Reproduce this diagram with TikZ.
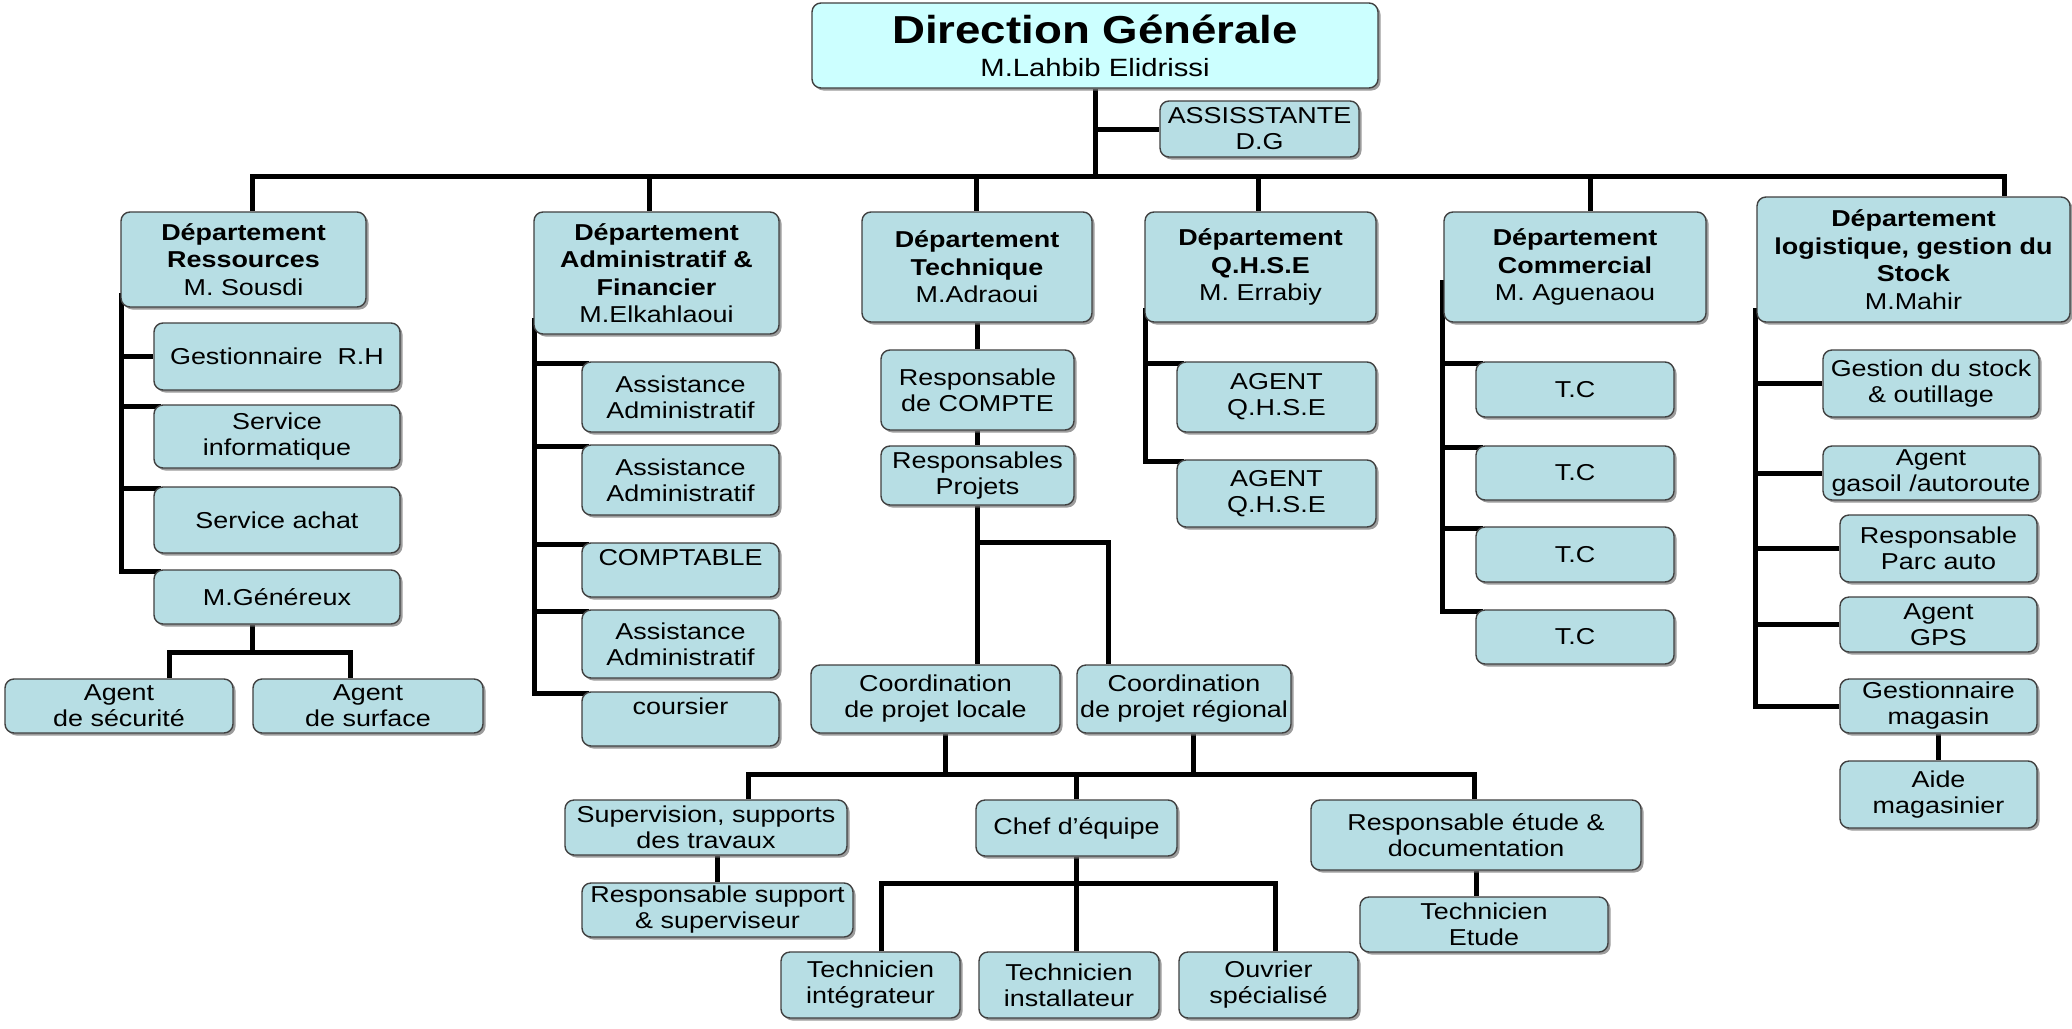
\documentclass[tikz,border=0pt]{standalone}
\usepackage{fontspec}
\setmainfont{Liberation Sans}[FakeStretch=1.17]
\usepackage{tikz}
\usetikzlibrary{positioning, shapes, shadows, backgrounds}
\definecolor{boxblue}{RGB}{183,222,228}
\definecolor{topcyan}{RGB}{204,255,255}

\begin{document}
\begin{tikzpicture}[
    x=1pt, y=-1pt,
    box/.style={rectangle, draw=black!75, line width=1.4pt, rounded corners=9pt, fill=boxblue, align=center, inner sep=0pt,
        font=\fontsize{23}{26}\selectfont, drop shadow={shadow xshift=2.5pt, shadow yshift=-2.5pt, fill=black!55, opacity=0.7}},
    dept/.style={box, font=\fontsize{23}{27.5}\selectfont},
    link/.style={line width=5pt}
]
    \useasboundingbox (0,0) rectangle (2072,1028);

    % Direction
    \node[box, fill=topcyan, minimum width=566pt, minimum height=85pt, font=\fontsize{25}{33}\selectfont] (dg) at (1095, 45.5) {\textbf{\fontsize{39}{39}\selectfont Direction Générale}\\M.Lahbib Elidrissi};
    \node[box, minimum width=199pt, minimum height=56pt] (dg_asst) at (1259.5, 129) {ASSISSTANTE\\D.G};

    % Departements
    \node[dept, minimum width=245pt, minimum height=95pt] (dep_rh) at (243.5, 259.5) {\textbf{Département}\\\textbf{Ressources}\\M. Sousdi};
    \node[dept, minimum width=245pt, minimum height=122pt] (dep_adm) at (656.5, 273) {\textbf{Département}\\\textbf{Administratif \&}\\\textbf{Financier}\\M.Elkahlaoui};
    \node[dept, minimum width=230pt, minimum height=110pt] (dep_tech) at (977, 267) {\textbf{Département}\\\textbf{Technique}\\M.Adraoui};
    \node[dept, minimum width=231pt, minimum height=110pt] (dep_qhse) at (1260.5, 267) {\textbf{Département}\\\textbf{Q.H.S.E}\\M. Errabiy};
    \node[dept, minimum width=262pt, minimum height=110pt] (dep_com) at (1575, 267) {\textbf{Département}\\\textbf{Commercial}\\M. Aguenaou};
    \node[dept, minimum width=313pt, minimum height=125pt] (dep_log) at (1913.5, 259.5) {\textbf{Département}\\\textbf{logistique, gestion du}\\\textbf{Stock}\\M.Mahir};

    % Ressources
    \node[box, minimum width=246pt, minimum height=67pt] (rh_grh) at (277, 356.5) {Gestionnaire~ R.H};
    \node[box, minimum width=246pt, minimum height=63pt] (rh_info) at (277, 436.5) {Service\\informatique};
    \node[box, minimum width=246pt, minimum height=66pt] (rh_achat) at (277, 520) {Service achat};
    \node[box, minimum width=246pt, minimum height=54pt] (rh_gen) at (277, 597) {M.Généreux};
    \node[box, minimum width=228pt, minimum height=54pt] (rh_secu) at (119, 706) {Agent\\de sécurité};
    \node[box, minimum width=230pt, minimum height=54pt] (rh_surf) at (368, 706) {Agent\\de surface};

    % Administratif
    \node[box, minimum width=197pt, minimum height=70pt] (adm_a1) at (680.5, 397) {Assistance\\Administratif};
    \node[box, minimum width=197pt, minimum height=70pt] (adm_a2) at (680.5, 480) {Assistance\\Administratif};
    \node[box, minimum width=197pt, minimum height=54pt] (adm_cpt) at (680.5, 570) {COMPTABLE\\~};
    \node[box, minimum width=197pt, minimum height=68pt] (adm_a3) at (680.5, 644) {Assistance\\Administratif};
    \node[box, minimum width=197pt, minimum height=54pt] (adm_cour) at (680.5, 719) {coursier\\~};

    % Technique
    \node[box, minimum width=193pt, minimum height=80pt] (tech_cpt) at (977.5, 390) {Responsable\\de COMPTE};
    \node[box, minimum width=193pt, minimum height=59pt] (tech_proj) at (977.5, 475.5) {Responsables\\Projets};
    \node[box, minimum width=249pt, minimum height=68pt] (coord_loc) at (935.5, 699) {Coordination\\de projet locale};
    \node[box, minimum width=214pt, minimum height=68pt] (coord_reg) at (1184, 699) {Coordination\\de projet régional};
    \node[box, minimum width=282pt, minimum height=55pt] (sup) at (706, 827.5) {Supervision, supports\\des travaux};
    \node[box, minimum width=271pt, minimum height=54pt] (rsup) at (717.5, 910) {Responsable support\\\& superviseur};
    \node[box, minimum width=201pt, minimum height=56pt] (chef) at (1076.5, 828) {Chef d'équipe};
    \node[box, minimum width=330pt, minimum height=70pt] (etude) at (1476, 835) {Responsable étude \&\\documentation};
    \node[box, minimum width=248pt, minimum height=55pt] (tetude) at (1484, 924.5) {Technicien\\Etude};
    \node[box, minimum width=179pt, minimum height=66pt] (tint) at (870.5, 985) {Technicien\\intégrateur};
    \node[box, minimum width=180pt, minimum height=66pt] (tinst) at (1069, 985) {Technicien\\installateur};
    \node[box, minimum width=179pt, minimum height=66pt] (ouvr) at (1268.5, 985) {Ouvrier\\spécialisé};

    % QHSE
    \node[box, minimum width=199pt, minimum height=70pt] (qhse_a1) at (1276.5, 397) {AGENT\\Q.H.S.E};
    \node[box, minimum width=199pt, minimum height=67pt] (qhse_a2) at (1276.5, 493.5) {AGENT\\Q.H.S.E};

    % Commercial
    \node[box, minimum width=198pt, minimum height=55pt] (com_tc1) at (1575, 389.5) {T.C};
    \node[box, minimum width=198pt, minimum height=54pt] (com_tc2) at (1575, 473) {T.C};
    \node[box, minimum width=198pt, minimum height=55pt] (com_tc3) at (1575, 554.5) {T.C};
    \node[box, minimum width=198pt, minimum height=54pt] (com_tc4) at (1575, 637) {T.C};

    % Logistique
    \node[box, minimum width=216pt, minimum height=67pt] (log_stock) at (1931, 383.5) {Gestion du stock\\\& outillage};
    \node[box, minimum width=216pt, minimum height=54pt] (log_gas) at (1931, 473) {Agent\\gasoil /autoroute};
    \node[box, minimum width=197pt, minimum height=67pt] (log_parc) at (1938.5, 548.5) {Responsable\\Parc auto};
    \node[box, minimum width=197pt, minimum height=55pt] (log_gps) at (1938.5, 624.5) {Agent\\GPS};
    \node[box, minimum width=197pt, minimum height=54pt] (log_mag) at (1938.5, 706) {Gestionnaire\\magasin};
    \node[box, minimum width=197pt, minimum height=67pt] (log_aide) at (1938.5, 794.5) {Aide\\magasinier};

    \begin{scope}[on background layer]
    \fill[white] (0,0) rectangle (2072,1028);
    % bus
    \coordinate (bus_l) at (252, 176);
    \coordinate (bus_r) at (2004, 176);
    \coordinate (drop_adm) at (649, 176);
    \coordinate (drop_tech) at (976, 176);
    \coordinate (drop_qhse) at (1258, 176);
    \coordinate (drop_com) at (1590, 176);
    \draw[link] (dg.south) -- (dg.south |- bus_l);
    \draw[link] (dg.south |- dg_asst.west) -- (dg_asst.west);
    \draw[link] (bus_l |- dep_rh.north) -- (bus_l) -- (bus_r) -- (bus_r |- dep_log.north);
    \draw[link] (drop_adm) -- (drop_adm |- dep_adm.north);
    \draw[link] (drop_tech) -- (drop_tech |- dep_tech.north);
    \draw[link] (drop_qhse) -- (drop_qhse |- dep_qhse.north);
    \draw[link] (drop_com) -- (drop_com |- dep_com.north);

    % Ressources spine
    \coordinate (rh_top) at (121, 293);
    \draw[link] (rh_grh.west) -| (rh_top);
    \draw[link] ([shift={(8pt,-2pt)}]rh_info.north west) -| (rh_top);
    \draw[link] ([shift={(8pt,-2pt)}]rh_achat.north west) -| (rh_top);
    \draw[link] ([shift={(8pt,-2pt)}]rh_gen.north west) -| (rh_top);
    \coordinate (gen_bus) at (252, 652);
    \coordinate (secu_drop) at (169, 652);
    \coordinate (surf_drop) at (350, 652);
    \draw[link] (gen_bus |- rh_gen.south) -- (gen_bus);
    \draw[link] (secu_drop |- rh_secu.north) -- (secu_drop) -- (surf_drop) -- (surf_drop |- rh_surf.north);

    % Administratif spine
    \coordinate (adm_top) at (534, 318);
    \draw[link] ([shift={(8pt,-2pt)}]adm_a1.north west) -| (adm_top);
    \draw[link] ([shift={(8pt,-2pt)}]adm_a2.north west) -| (adm_top);
    \draw[link] ([shift={(8pt,-2pt)}]adm_cpt.north west) -| (adm_top);
    \draw[link] ([shift={(8pt,-2pt)}]adm_a3.north west) -| (adm_top);
    \draw[link] ([shift={(8pt,-2pt)}]adm_cour.north west) -| (adm_top);

    % Technique
    \draw[link] (dep_tech.south) -- (dep_tech.south |- tech_cpt.north);
    \draw[link] (tech_cpt.south) -- (tech_cpt.south |- tech_proj.north);
    \draw[link] (tech_proj.south) -- (tech_proj.south |- coord_loc.north);
    \coordinate (proj_br) at (1108, 542);
    \draw[link] (tech_proj.south |- proj_br) -- (proj_br) -- (proj_br |- coord_reg.north);
    \coordinate (coord_bus_l) at (748, 774);
    \coordinate (coord_bus_r) at (1474, 774);
    \coordinate (loc_drop) at (945, 774);
    \coordinate (reg_drop) at (1193, 774);
    \draw[link] (loc_drop |- coord_loc.south) -- (loc_drop);
    \draw[link] (reg_drop |- coord_reg.south) -- (reg_drop);
    \draw[link] (coord_bus_l |- sup.north) -- (coord_bus_l) -- (coord_bus_r) -- (coord_bus_r |- etude.north);
    \draw[link] (chef.north) -- (chef.north |- coord_bus_l);
    \draw[link] (sup.south -| rsup.north) -- (rsup.north);
    \draw[link] (etude.south) -- (etude.south |- tetude.north);
    \coordinate (chef_bus_l) at (881, 883);
    \coordinate (chef_bus_r) at (1275, 883);
    \draw[link] (chef.south) -- (chef.south |- tinst.north);
    \draw[link] (chef_bus_l |- tint.north) -- (chef_bus_l) -- (chef_bus_r) -- (chef_bus_r |- ouvr.north);

    % QHSE spine
    \coordinate (qhse_top) at (1145, 308);
    \draw[link] ([shift={(8pt,-2pt)}]qhse_a1.north west) -| (qhse_top);
    \draw[link] ([shift={(8pt,-2pt)}]qhse_a2.north west) -| (qhse_top);

    % Commercial spine
    \coordinate (com_top) at (1442, 280);
    \draw[link] ([shift={(8pt,-2pt)}]com_tc1.north west) -| (com_top);
    \draw[link] ([shift={(8pt,-2pt)}]com_tc2.north west) -| (com_top);
    \draw[link] ([shift={(8pt,-2pt)}]com_tc3.north west) -| (com_top);
    \draw[link] ([shift={(8pt,-2pt)}]com_tc4.north west) -| (com_top);

    % Logistique spine
    \coordinate (log_top) at (1755, 308);
    \draw[link] (log_stock.west) -| (log_top);
    \draw[link] (log_gas.west) -| (log_top);
    \draw[link] (log_parc.west) -| (log_top);
    \draw[link] (log_gps.west) -| (log_top);
    \draw[link] (log_mag.west) -| (log_top);
    \draw[link] (log_mag.south) -- (log_aide.north);
    \end{scope}
\end{tikzpicture}
\end{document}
